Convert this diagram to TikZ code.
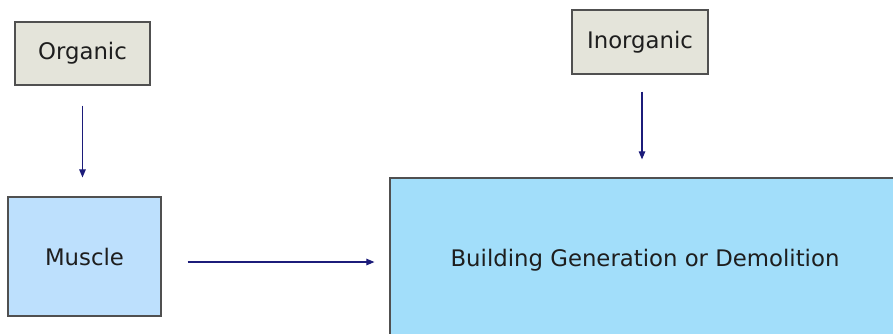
\documentclass[tikz,border=0pt]{standalone}
\usepackage{fontspec}
\setmainfont{DejaVu Sans}
\usetikzlibrary{arrows.meta}
\definecolor{srcfill}{HTML}{E4E4DA}
\definecolor{musclefill}{HTML}{BDE0FD}
\definecolor{buildfill}{HTML}{A2DEFA}
\definecolor{boxline}{HTML}{505050}
\definecolor{arrowblue}{HTML}{1C1C7A}
\definecolor{textdark}{HTML}{1E1E1E}
\begin{document}
\begin{tikzpicture}[x=1pt,y=-1pt,
  box/.style={draw=boxline,line width=1.2pt,inner sep=0pt,text=textdark,
    font=\fontsize{22.8}{26}\selectfont},
  srcbox/.style={box,fill=srcfill},
  flow/.style={draw=arrowblue,line width=1.1pt,
    -{Triangle[length=8pt,width=6.5pt]}}]
\useasboundingbox (0,0) rectangle (893,333);
\clip (0,0) rectangle (893,333);
\fill[white] (0,0) rectangle (893,333);
% source boxes
\node[srcbox,minimum width=135pt,minimum height=63pt] (org) at (82.5,53.5) {Organic};
\node[srcbox,minimum width=136pt,minimum height=64pt] (inorg) at (640,42) {Inorganic};
% muscle box
\node[box,fill=musclefill,minimum width=153pt,minimum height=119pt] (muscle) at (84.5,256.5) {Muscle};
% building box, running past the right and lower edges
\node[box,fill=buildfill,minimum width=510pt,minimum height=164pt] (build) at (645,260)
  {Building Generation or Demolition};
% connectors
\draw[flow,shorten <=20pt,shorten >=19pt] (org.south) -- (org.south |- muscle.north);
\draw[flow,shorten <=17pt,shorten >=18pt] ([xshift=2pt]inorg.south) -- ([xshift=2pt]inorg.south |- build.north);
\draw[flow,shorten <=26pt,shorten >=15pt] ([yshift=-5.5pt]muscle.east) -- ([yshift=-5.5pt]muscle.east -| build.west);
\end{tikzpicture}
\end{document}
